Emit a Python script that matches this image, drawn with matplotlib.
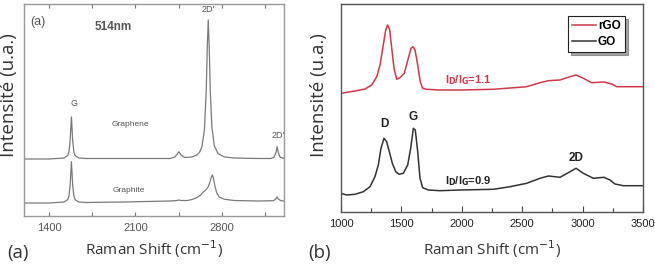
"""Raman spectra: (a) graphene vs graphite at 514nm, (b) GO vs rGO."""

import matplotlib
matplotlib.use("Agg")
import matplotlib.pyplot as plt

# ---- panel (a): graphene / graphite spectra (arbitrary units) ----
graphene_x = [1195, 1400, 1520, 1550, 1560, 1570, 1580, 1590, 1600, 1610, 1640,
              1700, 2000, 2380, 2420, 2440, 2452, 2470, 2500, 2560, 2600, 2620,
              2640, 2660, 2675, 2683, 2691, 2699, 2707, 2720, 2740, 2770, 2820,
              2900, 3100, 3200, 3225, 3240, 3250, 3260, 3275, 3306]
graphene_y = [57, 57, 58, 60.5, 64, 76, 99, 76, 64, 60.5, 58,
              57.5, 57.5, 57.5, 59, 62, 64.3, 61, 58.5, 59, 61.2, 63.7,
              69.4, 86.3, 126.5, 168, 196, 168, 126.5, 89.5, 70.4, 62.5, 59.1,
              58, 57.5, 57.5, 58.7, 63.2, 69.3, 63.2, 58.7, 57.5]

graphite_x = [1195, 1400, 1520, 1550, 1560, 1570, 1580, 1590, 1600, 1610, 1640,
              1700, 2000, 2380, 2440, 2452, 2470, 2520, 2560, 2600, 2630, 2650,
              2670, 2690, 2705, 2715, 2724, 2733, 2745, 2760, 2780, 2820, 2900,
              3100, 3220, 3240, 3250, 3260, 3280, 3306]
graphite_y = [13, 13, 14, 16.4, 20, 31.4, 54.3, 31.4, 20, 16.4, 14,
              13.5, 14, 15, 15.5, 16, 15.5, 15.5, 16.5, 18.5, 21, 24,
              26, 29, 34, 38.5, 41, 38, 30, 23, 19, 16.8, 15.5,
              15, 15.3, 17, 19, 17, 15.3, 15]

a_major_ticks = [1400, 2100, 2800]
a_minor_ticks = [1750, 2450, 3150]

# ---- panel (b): rGO / GO spectra (arbitrary units) ----
rgo_x = [1000, 1116, 1199, 1254, 1296, 1323, 1350, 1370, 1386, 1403, 1420, 1439,
         1461, 1488, 1524, 1557, 1580, 1596, 1613, 1635, 1656, 1676, 1709, 1820,
         1985, 2261, 2537, 2647, 2717, 2813, 2896, 2946, 3006, 3075, 3177, 3241,
         3282, 3500]
rgo_y = [118.7, 121, 123, 127, 135.3, 147, 167, 182, 187, 182, 163.7, 143.7,
         132.7, 134.3, 138.7, 153.7, 163.7, 165.3, 162, 147, 130.3, 123.7, 122.7, 122,
         122, 122.7, 125.3, 129.3, 131.3, 132, 135.3, 137, 133.7, 129.3, 130, 128,
         125.3, 125.3]

go_x = [1000, 1047, 1116, 1185, 1240, 1281, 1309, 1331, 1356, 1378, 1400, 1425,
        1453, 1480, 1516, 1552, 1577, 1599, 1615, 1635, 1654, 1676, 1723, 1820,
        1985, 2261, 2399, 2537, 2647, 2717, 2813, 2896, 2946, 3006, 3089, 3177,
        3227, 3268, 3337, 3500]
go_y = [18.7, 17, 17.7, 20.3, 25.3, 35.3, 47, 63.7, 73.7, 70.3, 60.3, 48.7,
        40.3, 37.7, 38.7, 47, 63.7, 83.7, 82, 60.3, 33.7, 24.3, 22, 21.3,
        22, 22.7, 25.3, 28.7, 33.7, 36, 34.7, 40.3, 43.7, 38.7, 33.7, 34.7,
        32, 28, 26.3, 26.3]

b_major_ticks = [1000, 1500, 2000, 2500, 3000, 3500]
b_minor_ticks = [1250, 1750, 2250, 2750, 3250]

W, H = 655, 268
fig = plt.figure(figsize=(W / 100, H / 100), dpi=100)

xlabel_font = dict(family="Open Sans", fontsize=11, color="#333333")
ylabel_font = dict(family="Open Sans", fontsize=13.5, color="#333333")
tick_font = "Liberation Sans"

# ---------------- panel (a) ----------------
ax1 = fig.add_axes([24 / W, 1 - 216 / H, 260 / W, 212 / H])
ax1.plot(graphene_x, graphene_y, color="#7a7a7a", lw=0.9)
ax1.plot(graphite_x, graphite_y, color="#7a7a7a", lw=0.9)
ax1.set_xlim(1195, 3306)
ax1.set_ylim(0, 212)
ax1.set_xticks(a_major_ticks)
ax1.set_xticks(a_minor_ticks, minor=True)
ax1.set_yticks([])
ax1.tick_params(axis="x", which="both", direction="in", top=True, length=3,
                width=0.8, color="#777777", labelsize=8, labelcolor="#555555", pad=5)
for lbl in ax1.get_xticklabels():
    lbl.set_family(tick_font)
for sp in ax1.spines.values():
    sp.set_color("#999999")
    sp.set_linewidth(1.0)

txt = dict(family=tick_font, color="#555555", ha="center", va="center")
ax1.text(1309, 194, "(a)", fontsize=9, **txt)
ax1.text(1918, 189, "514nm", fontsize=8.5, fontweight="bold", **txt)
ax1.text(2689, 206, "2D'", fontsize=6.5, **txt)
ax1.text(1601, 113, "G", fontsize=6.5, **txt)
ax1.text(2056, 91, "Graphene", fontsize=6, **txt)
ax1.text(3258, 81, "2D'", fontsize=6.5, **txt)
ax1.text(2048, 25, "Graphite", fontsize=6, **txt)

# ---------------- panel (b) ----------------
ax2 = fig.add_axes([341 / W, 1 - 212 / H, 302 / W, 208 / H])
ax2.plot(rgo_x, rgo_y, color="#cc3a4a", lw=1.1, label="rGO")
ax2.plot(go_x, go_y, color="#333333", lw=1.1, label="GO")
ax2.set_xlim(1000, 3500)
ax2.set_ylim(0, 208)
ax2.set_xticks(b_major_ticks)
ax2.set_xticks(b_minor_ticks, minor=True)
ax2.set_yticks([])
ax2.tick_params(axis="x", which="major", direction="in", length=4, width=0.8,
                color="#444444", labelsize=8, labelcolor="#222222", pad=5)
ax2.tick_params(axis="x", which="minor", direction="in", length=3, width=0.8,
                color="#444444")
for lbl in ax2.get_xticklabels():
    lbl.set_family(tick_font)
for sp in ax2.spines.values():
    sp.set_color("#555555")
    sp.set_linewidth(1.0)

btxt = dict(family=tick_font, fontweight="bold", ha="center", va="center")
ax2.text(1356, 88, "D", fontsize=8.5, color="#222222", **btxt)
ax2.text(1596, 95.3, "G", fontsize=8.5, color="#222222", **btxt)
ax2.text(2943, 54.3, "2D", fontsize=8.5, color="#222222", **btxt)
ax2.text(1861, 132, r"I$_\mathbf{D}$/I$_\mathbf{G}$=1.1", fontsize=8,
         color="#cc3a4a", family=tick_font, fontweight="bold", ha="left", va="center")
ax2.text(1861, 31, r"I$_\mathbf{D}$/I$_\mathbf{G}$=0.9", fontsize=8,
         color="#222222", family=tick_font, fontweight="bold", ha="left", va="center")

leg = ax2.legend(loc="upper right", bbox_to_anchor=(0.94, 0.942), frameon=True,
                 fancybox=False, shadow=True, handlelength=2.0, handletextpad=0.2,
                 borderpad=0.35, labelspacing=0.3, borderaxespad=0,
                 prop=dict(family=tick_font, weight="bold", size=8.5))
leg.get_frame().set_edgecolor("#222222")
leg.get_frame().set_linewidth(0.8)

# ---------------- figure-level labels ----------------
fig.text(154 / W, 1 - 249 / H, "Raman Shift (cm$^{-1}$)", ha="center", va="center",
         **xlabel_font)
fig.text(492 / W, 1 - 249 / H, "Raman Shift (cm$^{-1}$)", ha="center", va="center",
         **xlabel_font)
fig.text(9 / W, 1 - 95 / H, "Intensité (u.a.)", rotation=90, ha="center",
         va="center", **ylabel_font)
fig.text(319 / W, 1 - 95 / H, "Intensité (u.a.)", rotation=90, ha="center",
         va="center", **ylabel_font)
fig.text(18 / W, 1 - 253 / H, "(a)", ha="center", va="center", **ylabel_font)
fig.text(320 / W, 1 - 253 / H, "(b)", ha="center", va="center", **ylabel_font)

fig.savefig("out.png", dpi=100)
plt.close(fig)
